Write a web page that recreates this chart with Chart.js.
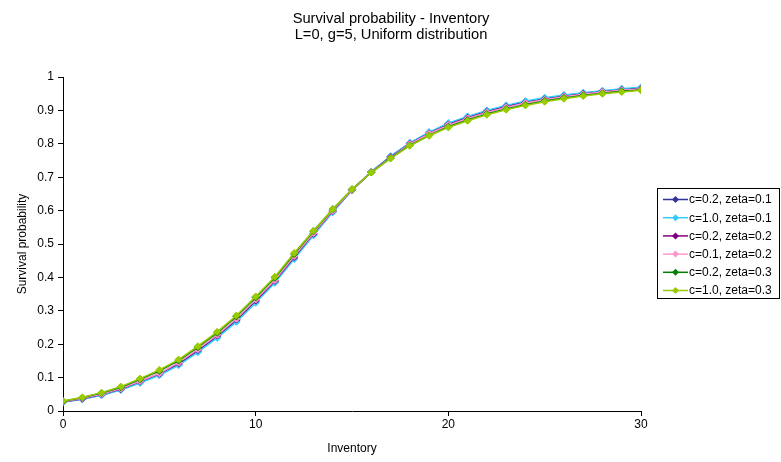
<!DOCTYPE html>
<html>
<head>
<meta charset="utf-8">
<script src="https://cdn.jsdelivr.net/npm/chart.js@4.4.0/dist/chart.umd.min.js"></script>
<style>
  html, body { margin: 0; padding: 0; background: #fff; }
</style>
</head>
<body>
<canvas id="myChart" width="781" height="462"></canvas>
<script>
const ctx = document.getElementById('myChart').getContext('2d');

// inventory levels 0..30
var inventory = [0,1,2,3,4,5,6,7,8,9,10,11,12,13,14,15,16,17,18,19,20,21,22,23,24,25,26,27,28,29,30];

var titleLines = ['Survival probability - Inventory', 'L=0, g=5, Uniform distribution'];

var seriesNames = ['c=0.2, zeta=0.1', 'c=1.0, zeta=0.1', 'c=0.2, zeta=0.2',
                   'c=0.1, zeta=0.2', 'c=0.2, zeta=0.3', 'c=1.0, zeta=0.3'];
var seriesColors = ['#333399', '#33CCFF', '#800080', '#FF99CC', '#008000', '#99CC00'];

// values
var c02z01 = [0.027,0.036,0.048,0.064,0.086,0.109,0.140,0.179,0.222,0.270,0.327,0.387,0.458,0.528,0.597,0.661,
              0.716,0.762,0.802,0.833,0.860,0.880,0.898,0.913,0.926,0.936,0.944,0.951,0.957,0.963,0.967];
var c10z01 = [0.026,0.035,0.047,0.063,0.084,0.107,0.137,0.176,0.219,0.267,0.324,0.384,0.455,0.526,0.595,0.661,
              0.716,0.763,0.803,0.835,0.862,0.882,0.900,0.915,0.928,0.938,0.946,0.953,0.959,0.965,0.969];
var c02z02 = [0.028,0.037,0.050,0.066,0.089,0.112,0.143,0.183,0.226,0.274,0.331,0.390,0.461,0.531,0.599,0.662,
              0.715,0.760,0.800,0.831,0.857,0.877,0.895,0.910,0.923,0.933,0.942,0.949,0.956,0.961,0.965];
var c01z02 = [0.028,0.038,0.051,0.067,0.090,0.113,0.145,0.185,0.228,0.276,0.334,0.392,0.464,0.533,0.600,0.662,
              0.715,0.759,0.799,0.830,0.856,0.876,0.894,0.909,0.922,0.932,0.941,0.948,0.955,0.960,0.964];
var c02z03 = [0.029,0.040,0.054,0.071,0.095,0.120,0.151,0.191,0.234,0.283,0.340,0.399,0.470,0.538,0.604,0.664,
              0.714,0.757,0.795,0.825,0.851,0.871,0.889,0.904,0.917,0.928,0.937,0.945,0.951,0.957,0.961];
var c10z03 = [0.030,0.041,0.055,0.073,0.097,0.123,0.154,0.194,0.237,0.286,0.343,0.402,0.473,0.540,0.605,0.664,
              0.714,0.756,0.794,0.824,0.849,0.869,0.887,0.902,0.915,0.926,0.935,0.943,0.950,0.955,0.960];

var allSeries = [c02z01, c10z01, c02z02, c01z02, c02z03, c10z03];

var yTicks = [0,0.1,0.2,0.3,0.4,0.5,0.6,0.7,0.8,0.9,1];
var xTicks = [0,10,20,30];

var datasets = [];
for (let i = 0; i < allSeries.length; i++) {
    datasets.push({
        label: seriesNames[i],
        data: allSeries[i].map((v, k) => ({x: inventory[k], y: v})),
        borderColor: seriesColors[i],
        backgroundColor: seriesColors[i],
        borderWidth: 1.5,
        pointStyle: 'rectRot',
        pointRadius: 3.5,
        pointBorderWidth: 1,
        order: allSeries.length - 1 - i   // last series drawn on top
    });
}

const fam = '"Liberation Sans", Arial, sans-serif';

// title centred over the whole picture + Excel style legend with a frame
const excelBits = {
    id: 'excelBits',
    afterDraw(chart) {
        const c = chart.ctx;
        c.save();
        c.fillStyle = '#000';
        c.textAlign = 'center';
        c.textBaseline = 'alphabetic';
        c.font = '14.7px ' + fam;
        c.fillText(titleLines[0], 391, 22.5);
        c.fillText(titleLines[1], 391, 39);

        c.textAlign = 'left';
        c.strokeStyle = '#000';
        c.lineWidth = 1;
        c.strokeRect(657.5, 188.5, 122, 110);
        c.font = '12px ' + fam;
        c.textBaseline = 'middle';
        chart.data.datasets.forEach((ds, i) => {
            const y = 199.5 + i * 18.2;
            c.strokeStyle = ds.borderColor;
            c.lineWidth = 1.5;
            c.beginPath();
            c.moveTo(663, y);
            c.lineTo(688, y);
            c.stroke();
            c.fillStyle = ds.borderColor;
            c.beginPath();
            c.moveTo(675.5, y - 3.5);
            c.lineTo(679, y);
            c.lineTo(675.5, y + 3.5);
            c.lineTo(672, y);
            c.closePath();
            c.fill();
            c.fillStyle = '#000';
            c.fillText(ds.label, 689, y + 0.5);
        });
        c.restore();
    }
};

const font = {family: fam, size: 12};

const myChart = new Chart(ctx, {
    type: 'line',
    data: { datasets: datasets },
    options: {
        responsive: false,
        animation: false,
        devicePixelRatio: 1,
        layout: { padding: { left: 0, right: 140, top: 77, bottom: 0 } },
        plugins: {
            legend: { display: false },
            tooltip: { enabled: false },
            title: { display: false }
        },
        scales: {
            x: {
                type: 'linear',
                min: 0,
                max: 30,
                afterBuildTicks: (s) => { s.ticks = xTicks.map(v => ({value: v})); },
                afterFit: (s) => { s.height = 51; },
                grid: { drawOnChartArea: false, drawTicks: true, tickLength: 5, color: '#000' },
                border: { color: '#000', width: 1 },
                ticks: { color: '#000', font: font, padding: 1, maxRotation: 0 },
                title: { display: true, text: 'Inventory', color: '#000', font: font, padding: 6 }
            },
            y: {
                type: 'linear',
                min: 0,
                max: 1,
                afterBuildTicks: (s) => { s.ticks = yTicks.map(v => ({value: v})); },
                afterFit: (s) => { s.width = 63; },
                grid: { drawOnChartArea: false, drawTicks: true, tickLength: 5, color: '#000' },
                border: { color: '#000', width: 1 },
                ticks: { color: '#000', font: font, padding: 4, callback: (v) => String(+v.toFixed(1)) },
                title: { display: true, text: 'Survival probability', color: '#000', font: font, padding: { top: 15, bottom: 0 } }
            }
        }
    },
    plugins: [excelBits]
});
</script>
</body>
</html>
